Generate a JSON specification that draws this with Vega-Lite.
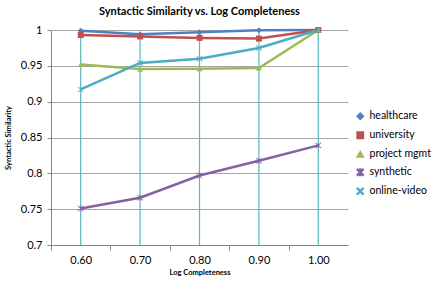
{
  "$schema": "https://vega.github.io/schema/vega-lite/v6.json",
  "width": 297,
  "height": 215,
  "autosize": {"type": "none"},
  "padding": {"left": 51, "top": 30, "right": 99, "bottom": 41},
  "background": "white",
  "title": {
    "text": "Syntactic Similarity vs. Log Completeness",
    "font": "Lato",
    "fontSize": 11,
    "fontWeight": "bold",
    "color": "#000000",
    "anchor": "middle",
    "offset": 7
  },
  "data": {
    "values": [
      {"series": "healthcare", "completeness": 0.6, "similarity": 0.999},
      {"series": "healthcare", "completeness": 0.7, "similarity": 0.994},
      {"series": "healthcare", "completeness": 0.8, "similarity": 0.997},
      {"series": "healthcare", "completeness": 0.9, "similarity": 0.9995},
      {"series": "healthcare", "completeness": 1.0, "similarity": 1.0},
      {"series": "university", "completeness": 0.6, "similarity": 0.993},
      {"series": "university", "completeness": 0.7, "similarity": 0.991},
      {"series": "university", "completeness": 0.8, "similarity": 0.989},
      {"series": "university", "completeness": 0.9, "similarity": 0.988},
      {"series": "university", "completeness": 1.0, "similarity": 1.0},
      {"series": "project mgmt", "completeness": 0.6, "similarity": 0.952},
      {"series": "project mgmt", "completeness": 0.7, "similarity": 0.9455},
      {"series": "project mgmt", "completeness": 0.8, "similarity": 0.946},
      {"series": "project mgmt", "completeness": 0.9, "similarity": 0.947},
      {"series": "project mgmt", "completeness": 1.0, "similarity": 1.0},
      {"series": "synthetic", "completeness": 0.6, "similarity": 0.751},
      {"series": "synthetic", "completeness": 0.7, "similarity": 0.766},
      {"series": "synthetic", "completeness": 0.8, "similarity": 0.797},
      {"series": "synthetic", "completeness": 0.9, "similarity": 0.8175},
      {"series": "synthetic", "completeness": 1.0, "similarity": 0.839},
      {"series": "online-video", "completeness": 0.6, "similarity": 0.917},
      {"series": "online-video", "completeness": 0.7, "similarity": 0.954},
      {"series": "online-video", "completeness": 0.8, "similarity": 0.96},
      {"series": "online-video", "completeness": 0.9, "similarity": 0.975},
      {"series": "online-video", "completeness": 1.0, "similarity": 1.0}
    ]
  },
  "encoding": {
    "x": {
      "field": "completeness",
      "type": "quantitative",
      "scale": {"domain": [0.55, 1.05], "nice": false, "zero": false},
      "axis": {
        "values": [0.6, 0.7, 0.8, 0.9, 1.0],
        "format": ".2f",
        "tickOffset": -29.7,
        "labelOffset": 29.7,
        "grid": false,
        "title": "Log Completeness",
        "titleFont": "Lato",
        "titleFontSize": 7.5,
        "titleFontWeight": "bold",
        "titleColor": "#000000",
        "titlePadding": 3,
        "labelFont": "Lato",
        "labelFontSize": 11,
        "labelColor": "#000000",
        "labelPadding": 4,
        "domainColor": "#868686",
        "tickColor": "#868686",
        "tickSize": 5
      }
    },
    "y": {
      "field": "similarity",
      "type": "quantitative",
      "scale": {"domain": [0.7, 1.0], "nice": false, "zero": false},
      "axis": {
        "values": [0.7, 0.75, 0.8, 0.85, 0.9, 0.95, 1.0],
        "format": "~g",
        "grid": true,
        "gridColor": "#a6a6a6",
        "gridWidth": 1,
        "title": "Syntactic Similarity",
        "titleFont": "Lato",
        "titleFontSize": 7.5,
        "titleFontWeight": "bold",
        "titleColor": "#000000",
        "titlePadding": 8,
        "labelFont": "Lato",
        "labelFontSize": 11,
        "labelColor": "#000000",
        "labelPadding": 5,
        "domainColor": "#868686",
        "tickColor": "#868686",
        "tickSize": 4
      }
    }
  },
  "layer": [
    {
      "transform": [
        {"aggregate": [{"op": "max", "field": "similarity", "as": "top"}], "groupby": ["completeness"]}
      ],
      "mark": {"type": "rule", "color": "#5db6ba", "strokeWidth": 1.2},
      "encoding": {
        "y": {"field": "top", "type": "quantitative"},
        "y2": {"datum": 0.7}
      }
    },
    {
      "mark": {"type": "line", "strokeWidth": 2.5},
      "encoding": {
        "color": {
          "field": "series",
          "type": "nominal",
          "scale": {
            "domain": ["healthcare", "university", "project mgmt", "synthetic", "online-video"],
            "range": ["#4f81bd", "#c0504d", "#9bbb59", "#8064a2", "#4bacc6"]
          }
        }
      }
    },
    {
      "mark": {"type": "point", "filled": true, "size": 36, "opacity": 1},
      "encoding": {
        "color": {
          "field": "series",
          "type": "nominal",
          "scale": {
            "domain": ["healthcare", "university", "project mgmt", "synthetic", "online-video"],
            "range": ["#4f81bd", "#c0504d", "#9bbb59", "#8064a2", "#4bacc6"]
          }
        },
        "shape": {
          "field": "series",
          "type": "nominal",
          "scale": {
            "domain": ["healthcare", "university", "project mgmt", "synthetic", "online-video"],
            "range": [
              "diamond",
              "square",
              "triangle-up",
              "M-1,-0.8L-0.8,-1L0,-0.2L0.8,-1L1,-0.8L0.2,0L1,0.8L0.8,1L0,0.2L-0.8,1L-1,0.8L-0.2,0ZM-0.12,-1L0.12,-1L0.12,1L-0.12,1Z",
              "M-1,-0.8L-0.8,-1L0,-0.2L0.8,-1L1,-0.8L0.2,0L1,0.8L0.8,1L0,0.2L-0.8,1L-1,0.8L-0.2,0Z"
            ]
          }
        }
      }
    }
  ],
  "config": {
    "view": {"stroke": null},
    "legend": {
      "title": null,
      "orient": "none",
      "legendX": 304,
      "legendY": 81,
      "labelFont": "Lato",
      "labelFontSize": 10.5,
      "labelColor": "#000000",
      "rowPadding": 6,
      "symbolSize": 40
    }
  }
}
